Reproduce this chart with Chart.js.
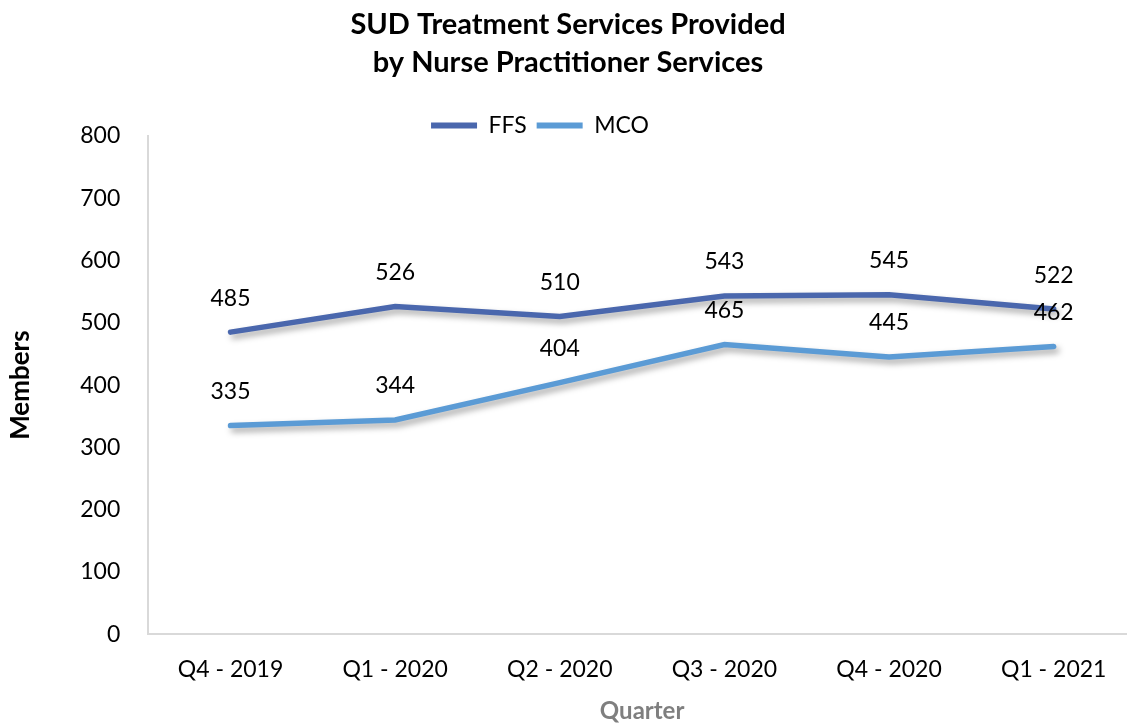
<!DOCTYPE html>
<html>
<head>
<meta charset="utf-8">
<script src="https://cdn.jsdelivr.net/npm/chart.js@4.4.1/dist/chart.umd.min.js"></script>
<style>
  html, body { margin: 0; padding: 0; background: #fff; overflow: hidden; }
  #wrap { width: 1136px; height: 726px; }
</style>
</head>
<body>
<div id="wrap"><canvas id="myChart" width="1136" height="726"></canvas></div>
<script>
const quarters = ['Q4 - 2019', 'Q1 - 2020', 'Q2 - 2020', 'Q3 - 2020', 'Q4 - 2020', 'Q1 - 2021'];
const ffsMembers = [485, 526, 510, 543, 545, 522];
const mcoMembers = [335, 344, 404, 465, 445, 462];
const yTicks = [0, 100, 200, 300, 400, 500, 600, 700, 800];

const FONT = 'Lato, "Open Sans", sans-serif';

// soft shadow under each line, like the office chart
const lineShadow = {
  id: 'lineShadow',
  beforeDatasetDraw(chart) {
    const ctx = chart.ctx;
    ctx.save();
    ctx.shadowColor = 'rgba(0,0,0,0.35)';
    ctx.shadowBlur = 6;
    ctx.shadowOffsetX = 3;
    ctx.shadowOffsetY = 4;
  },
  afterDatasetDraw(chart) {
    chart.ctx.restore();
  }
};

// value labels above the points
const valueLabels = {
  id: 'valueLabels',
  afterDatasetsDraw(chart) {
    const ctx = chart.ctx;
    ctx.save();
    ctx.font = '23px ' + FONT;
    ctx.fillStyle = '#000';
    ctx.textAlign = 'center';
    ctx.textBaseline = 'middle';
    chart.data.datasets.forEach((ds, i) => {
      chart.getDatasetMeta(i).data.forEach((pt, j) => {
        ctx.fillText(ds.data[j], pt.x, pt.y - 34);
      });
    });
    ctx.restore();
  }
};

// move the legend where the office chart has it
const legendDx = -28, legendDy = 11;
const legendShift = {
  id: 'legendShift',
  beforeDraw(chart) {
    const lg = chart.legend;
    if (lg) {
      lg.left += legendDx; lg.right += legendDx;
      lg.top += legendDy; lg.bottom += legendDy;
    }
  },
  afterDraw(chart) {
    const lg = chart.legend;
    if (lg) {
      lg.left -= legendDx; lg.right -= legendDx;
      lg.top -= legendDy; lg.bottom -= legendDy;
    }
  }
};

const ctx = document.getElementById('myChart').getContext('2d');
new Chart(ctx, {
  type: 'line',
  data: {
    labels: quarters,
    datasets: [{
      label: 'FFS',
      data: ffsMembers,
      borderColor: '#4A67AD',
      backgroundColor: '#4A67AD',
      borderWidth: 5.5,
      pointRadius: 0,
      fill: false,
      tension: 0,
      borderCapStyle: 'round'
    }, {
      label: 'MCO',
      data: mcoMembers,
      borderColor: '#5B9BD5',
      backgroundColor: '#5B9BD5',
      borderWidth: 5.5,
      pointRadius: 0,
      fill: false,
      tension: 0,
      borderCapStyle: 'round'
    }]
  },
  options: {
    responsive: false,
    animation: false,
    events: [],
    layout: { padding: { left: 0, right: 0, top: 6, bottom: 0 } },
    plugins: {
      title: {
        display: true,
        text: ['SUD Treatment Services Provided', 'by Nurse Practitioner Services'],
        color: '#000',
        font: { family: FONT, size: 29, weight: 'bold', lineHeight: 1.31 },
        padding: { top: 0, bottom: 11 }
      },
      legend: {
        display: true,
        labels: {
          color: '#000',
          font: { family: FONT, size: 23 },
          boxWidth: 46,
          boxHeight: 6,
          padding: 10,
          generateLabels(chart) {
            return Chart.defaults.plugins.legend.labels.generateLabels(chart)
              .map(l => Object.assign(l, { lineWidth: 0 }));
          }
        }
      },
      tooltip: { enabled: false }
    },
    scales: {
      x: {
        offset: true,
        grid: { display: false },
        border: { display: true, color: '#d9d9d9', width: 2 },
        ticks: { color: '#000', font: { family: FONT, size: 23, lineHeight: 1.0 }, padding: 16, maxRotation: 0 },
        title: {
          display: true,
          text: 'Quarter',
          color: '#7f7f7f',
          font: { family: FONT, size: 24, weight: 'bold' },
          padding: { top: 0, bottom: 0 }
        }
      },
      y: {
        min: 0,
        max: 800,
        grid: { display: false },
        border: { display: true, color: '#d9d9d9', width: 2 },
        afterBuildTicks(scale) {
          scale.ticks = yTicks.map(v => ({ value: v }));
        },
        ticks: { color: '#000', font: { family: FONT, size: 23 }, padding: 20 },
        title: {
          display: true,
          text: 'Members',
          color: '#000',
          font: { family: FONT, size: 26, weight: 'bold' },
          padding: { top: 5, bottom: 24 }
        }
      }
    }
  },
  plugins: [lineShadow, valueLabels, legendShift]
});
</script>
</body>
</html>
